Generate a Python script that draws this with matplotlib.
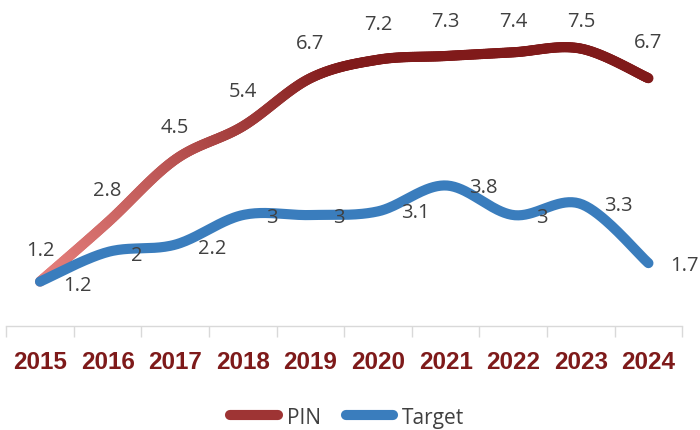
import numpy as np
import matplotlib
matplotlib.use("Agg")
import matplotlib.pyplot as plt
from matplotlib.collections import LineCollection
from matplotlib.lines import Line2D

# dati
years = [2015, 2016, 2017, 2018, 2019, 2020, 2021, 2022, 2023, 2024]
pin = [1.2, 2.8, 4.5, 5.4, 6.7, 7.2, 7.3, 7.4, 7.5, 6.7]
target = [1.2, 2, 2.2, 3, 3, 3.1, 3.8, 3, 3.3, 1.7]

# spostamento etichette (pixel)
pin_lab_off = [(0, 32), (0, 32), (0, 33), (0, 35), (0, 35), (0, 36), (0, 35), (0, 31), (0, 28), (0, 36)]
tgt_lab_off = [(23, -3), (23, -3), (23, -3), (23, -2), (23, -2), (23, -1), (23, -2), (23, -2), (23, -1), (22, -2)]

label_font = "Open Sans"
dark_red = "#7E1A1A"
pink = np.array([232, 130, 127]) / 255
red = np.array([128, 26, 26]) / 255
blue = "#3A7DBD"


# curva liscia tipo Excel (Bezier con punti di controllo Catmull-Rom)
def smooth(x, y, n=40):
    p = np.column_stack([x, y]).astype(float)
    p = np.vstack([p[0], p, p[-1]])
    out = []
    for i in range(1, len(p) - 2):
        p0, p1, p2, p3 = p[i - 1], p[i], p[i + 1], p[i + 2]
        c1 = p1 + (p2 - p0) / 6
        c2 = p2 - (p3 - p1) / 6
        t = np.linspace(0, 1, n)[:, None]
        seg = (1 - t) ** 3 * p1 + 3 * (1 - t) ** 2 * t * c1 + 3 * (1 - t) * t ** 2 * c2 + t ** 3 * p2
        out.append(seg if i == 1 else seg[1:])
    out = np.vstack(out)
    return out[:, 0], out[:, 1]


fig = plt.figure(figsize=(7, 4.31), dpi=100)
ax = fig.add_axes([0.0089, 0.2413, 0.9657, 0.6865])

xpos = np.arange(len(years))

# PIN con sfumatura
sx, sy = smooth(xpos, pin)
pts = np.column_stack([sx, sy]).reshape(-1, 1, 2)
segs = np.concatenate([pts[:-1], pts[1:]], axis=1)
tt = np.clip(((sx[:-1] + sx[1:]) / 2) / 4.5, 0, 1)[:, None]
cols = pink * (1 - tt) + red * tt
lc = LineCollection(segs, colors=cols, linewidths=7.3, capstyle="round", joinstyle="round", clip_on=False, zorder=2)
ax.add_collection(lc)

# Target
tx, ty = smooth(xpos, target)
ax.plot(tx, ty, color=blue, lw=7.3, solid_capstyle="round", solid_joinstyle="round", clip_on=False, zorder=3)

for i, v in enumerate(pin):
    ax.annotate(f"{v:g}", (xpos[i], v), xytext=pin_lab_off[i], textcoords="offset pixels",
                ha="center", va="center", fontsize=14.5, color="#404040", family=label_font, zorder=4)
for i, v in enumerate(target):
    ax.annotate(f"{v:g}", (xpos[i], v), xytext=tgt_lab_off[i], textcoords="offset pixels",
                ha="left", va="center", fontsize=14.5, color="#404040", family=label_font, zorder=4)

ax.set_xlim(-0.5, len(years) - 0.5)
ax.set_ylim(0, 8)
ax.set_yticks([])
for s in ["top", "left", "right"]:
    ax.spines[s].set_visible(False)
ax.spines["bottom"].set_color("#D9D9D9")
ax.spines["bottom"].set_linewidth(1)

ax.set_xticks(xpos)
ax.set_xticklabels([str(y) for y in years], family=["Liberation Sans", "DejaVu Sans"],
                   fontweight="bold", fontsize=17.5, color=dark_red)
ax.tick_params(axis="x", which="major", length=0, pad=17)
ax.set_xticks(np.arange(-0.5, len(years)), minor=True)
ax.tick_params(axis="x", which="minor", length=8, color="#D9D9D9", width=1)

handles = [Line2D([], [], color="#9E3434", lw=7.3, solid_capstyle="round"),
           Line2D([], [], color=blue, lw=7.3, solid_capstyle="round")]
fig.legend(handles, ["PIN", "Target"], loc="center", bbox_to_anchor=(0.496, 0.03), ncol=2, frameon=False,
           prop={"family": label_font, "size": 15}, labelcolor="#404040",
           handlelength=2.3, handletextpad=0.4, columnspacing=1.2)

fig.savefig("out.png", dpi=100)
